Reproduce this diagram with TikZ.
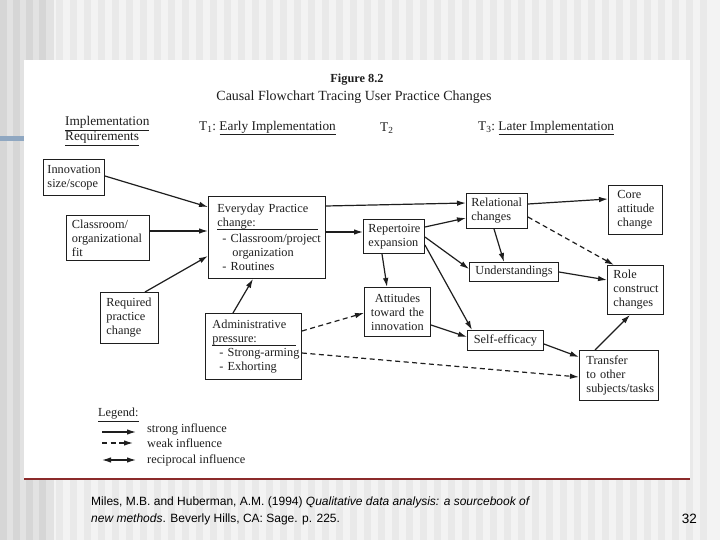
\documentclass[tikz,border=0pt]{standalone}
\usepackage{fontspec}
\setmainfont{Liberation Serif}
\newfontfamily\footfont{Liberation Sans}
\usetikzlibrary{arrows.meta}
\definecolor{ink}{HTML}{1E1E1E}
\definecolor{redline}{HTML}{8B2A2A}
\definecolor{bluebar}{HTML}{8FA7C1}
\definecolor{bgA}{HTML}{F3F3F3}
\definecolor{bgB}{HTML}{E9E9E9}
\definecolor{bgC}{HTML}{E2E2E2}
\definecolor{bgD}{HTML}{D6D6D6}
\begin{document}
\begin{tikzpicture}[x=1pt,y=-1pt,
  >={Latex[length=9pt,width=5.5pt]},
  bx/.style={draw=ink, line width=0.95pt, anchor=north west, align=left, text=ink,
             font=\fontsize{12.3}{14}\selectfont},
  txt/.style={inner sep=0pt, text=ink, font=\fontsize{12.3}{14}\selectfont},
  arr/.style={draw=ink, line width=1.2pt, ->},
  darr/.style={arr, dash pattern=on 5pt off 3.5pt}]
\useasboundingbox (0,0) rectangle (720,540);
% slide background
\fill[bgA] (0,0) rectangle (720,540);
\foreach \x in {56,70,...,712} \fill[bgB] (\x,0) rectangle ++(7,540);
\fill[bgC] (0,0) rectangle (54,540);
\foreach \x in {0,13,26,39} \fill[bgD] (\x,0) rectangle ++(7,540);
\fill[white] (24,60) rectangle (690,479);
\draw[redline, line width=1.4pt] (24,479) -- (690,479);
\fill[bluebar] (0,136) rectangle (24,141);

% title and header
\node[txt, font=\bfseries\fontsize{12.3}{14}\selectfont] (fig) at (357,80) {Figure 8.2};
\node[txt, font=\fontsize{14}{16}\selectfont] (ttl) at (354,97) {Causal Flowchart Tracing User Practice Changes};
\node[txt, anchor=west, align=left, font=\fontsize{13.3}{12.5}\selectfont] (hdr0) at (65,131) {\underline{Implementation}\\\underline{Requirements}};
\node[txt, anchor=west, font=\fontsize{13.3}{14}\selectfont] (hdr1) at (199,128) {T\textsubscript{1}:\ \underline{Early Implementation}};
\node[txt, anchor=west, font=\fontsize{13.3}{14}\selectfont] (hdr2) at (380,128) {T\textsubscript{2}};
\node[txt, anchor=west, font=\fontsize{13.3}{14}\selectfont] (hdr3) at (478,128) {T\textsubscript{3}:\ \underline{Later Implementation}};

% boxes
\node[bx, minimum width=61, minimum height=36, text width=53, inner xsep=4] (inn) at (43,159) {Innovation\\size/scope};
\node[bx, minimum width=83, minimum height=45, text width=72, inner xsep=5.5] (cls) at (66,215) {Classroom/\\organizational\\fit};
\node[bx, minimum width=58, minimum height=51, text width=46, inner xsep=6] (req) at (100,292) {Required\\practice\\change};
\node[bx, minimum width=117, minimum height=82, text width=111, inner xsep=3] (ev) at (208,196)
  {\hspace*{6pt}Everyday Practice\\
   \hspace*{6pt}\makebox[0pt][l]{\rule[-3pt]{101pt}{0.7pt}}change:\\[2pt]
   \hspace*{11pt}\mbox{-~Classroom/project}\\
   \hspace*{21pt}organization\\
   \hspace*{11pt}-~Routines};
\node[bx, minimum width=96, minimum height=66, text width=90, inner xsep=3] (adm) at (205,313)
  {\hspace*{4pt}Administrative\\
   \hspace*{4pt}\makebox[0pt][l]{\rule[-3pt]{84pt}{0.7pt}}pressure:\\
   \hspace*{11pt}\mbox{-~Strong-arming}\\
   \hspace*{11pt}-~Exhorting};
\node[bx, minimum width=61, minimum height=34, text width=51, inner xsep=5] (rep) at (363,219) {Repertoire\\expansion};
\node[bx, align=center, minimum width=66, minimum height=49, text width=58, inner xsep=4] (att) at (364,287) {Attitudes\\toward the\\innovation};
\node[bx, minimum width=61, minimum height=35, text width=51, inner xsep=5] (rel) at (466,193) {Relational\\changes};
\node[bx, align=center, minimum width=89, minimum height=19, text width=81, inner xsep=4, inner ysep=2] (und) at (469,262) {Understandings};
\node[bx, align=center, minimum width=76, minimum height=20, text width=70, inner xsep=3, inner ysep=2] (se) at (467,330) {Self-efficacy};
\node[bx, minimum width=54, minimum height=49, text width=36, inner xsep=9] (core) at (608,185) {Core\\attitude\\change};
\node[bx, minimum width=56, minimum height=49, text width=44, inner xsep=6] (role) at (607,265) {Role\\construct\\changes};
\node[bx, minimum width=79, minimum height=50, text width=65, inner xsep=7] (tr) at (579,350) {Transfer\\to other\\subjects/tasks};

% connectors
\draw[arr] (inn.east |- 0,176) -- (ev.west |- 0,207);
\draw[arr] (cls.east |- 0,231) -- (ev.west |- 0,231);
\draw[arr] (req.north -| 145,0) -- (ev.west |- 0,256);
\draw[arr] (adm.north -| 233,0) -- (ev.south -| 253,0);
\draw[arr] (ev.east |- 0,206) -- (rel.west |- 0,203);
\draw[arr] (ev.east |- 0,232) -- (rep.west |- 0,232);
\draw[arr] (rep.east |- 0,227) -- (rel.west |- 0,218);
\draw[arr] (rep.east |- 0,237) -- (und.west |- 0,269);
\draw[arr] (rep.east |- 0,245) -- (se.north -| 472,0);
\draw[arr] (rep.south -| 382,0) -- (att.north -| 387,0);
\draw[arr] (rel.south -| 494,0) -- (und.north -| 504,0);
\draw[arr] (rel.east |- 0,204) -- (core.west |- 0,199);
\draw[darr] (rel.east |- 0,217) -- (role.north -| 614,0);
\draw[arr] (und.east |- 0,272) -- (role.west |- 0,280);
\draw[arr] (att.east |- 0,325) -- (se.west |- 0,337);
\draw[darr] (adm.east |- 0,331) -- (att.west |- 0,313);
\draw[darr] (adm.east |- 0,353) -- (tr.west |- 0,377);
\draw[arr] (se.east |- 0,344) -- (tr.west |- 0,357);
\draw[arr] (tr.north -| 595,0) -- (role.south -| 630,0);

% legend
\node[txt, anchor=west] (leg) at (98,415) {\underline{Legend:}};
\coordinate (l1a) at (102,432); \coordinate (l1b) at (136,432);
\coordinate (l2a) at (102,443); \coordinate (l2b) at (133,443);
\coordinate (l3a) at (102,460); \coordinate (l3b) at (136,460);
\draw[arr] (l1a) -- (l1b);
\draw[darr] (l2a) -- (l2b);
\draw[arr, <->] (l3a) -- (l3b);
\node[txt, anchor=west] (lt1) at (147,429) {strong influence};
\node[txt, anchor=west] (lt2) at (147,443) {weak influence};
\node[txt, anchor=west] (lt3) at (147,460) {reciprocal influence};

% footer
\node[inner sep=0pt, anchor=west, align=left, text=black, font=\footfont\fontsize{12}{16.5}\selectfont] (ref) at (91,511)
  {Miles, M.B. and Huberman, A.M. (1994) \textit{Qualitative data analysis: a sourcebook of}\\
   \textit{new methods}. Beverly Hills, CA: Sage. p. 225.};
\node[inner sep=0pt, anchor=east, text=black, font=\footfont\fontsize{13.5}{14}\selectfont] (pg) at (697,519) {32};
\end{tikzpicture}
\end{document}
